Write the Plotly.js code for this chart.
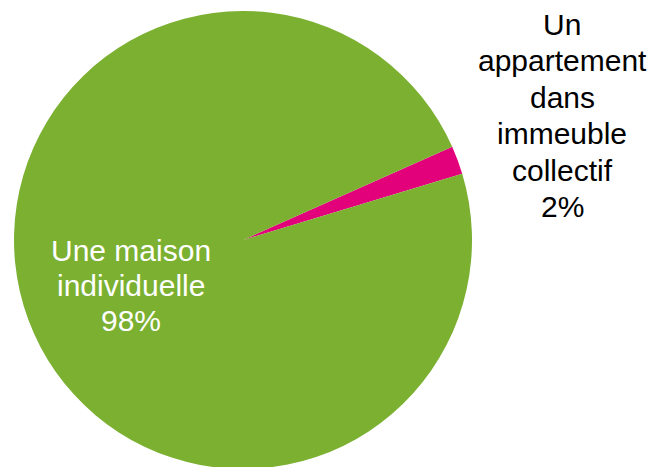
<!DOCTYPE html>
<html>
<head>
<meta charset="utf-8">
<script src="https://cdn.plot.ly/plotly-3.0.1.min.js"></script>
<style>
html, body { margin: 0; padding: 0; overflow: hidden; background: #ffffff; }
#chart { width: 662px; height: 470px; }
</style>
</head>
<body>
<div id="chart"></div>
<script>
const categories = ["Un appartement dans immeuble collectif", "Une maison individuelle"];
const values = [2, 98];
const percentLabels = ["2%", "98%"];
const colors = ["#E3007B", "#7BB031"];
const labelLinesAppart = ["Un", "appartement", "dans", "immeuble", "collectif"];
const labelLinesMaison = ["Une maison", "individuelle"];

const W = 662, H = 470;
const FS = 30;
const FONT = "Liberation Sans, Arial, sans-serif";

const trace = {
  type: "pie",
  labels: categories,
  values: values,
  sort: false,
  direction: "clockwise",
  rotation: 66,
  marker: { colors: colors, line: { width: 0 } },
  textinfo: "none",
  hoverinfo: "none",
  showlegend: false,
  domain: { x: [14 / W, 472 / W], y: [1 - 469 / H, 1 - 11 / H] }
};

function lineAnnots(lines, cx, firstBaseline, spacing, color) {
  return lines.map((t, i) => ({
    text: t,
    xref: "paper", yref: "paper",
    x: cx / W,
    y: 1 - (firstBaseline + i * spacing - 0.35 * FS) / H,
    xanchor: "center", yanchor: "middle",
    showarrow: false, align: "center",
    font: { size: FS, color: color, family: FONT }
  }));
}

const annotations = []
  .concat(lineAnnots(labelLinesAppart.concat([percentLabels[0]]), 562, 35, 36.4, "#000000"))
  .concat(lineAnnots(labelLinesMaison.concat([percentLabels[1]]), 131, 260.5, 35, "#ffffff"));

const layout = {
  width: W,
  height: H,
  margin: { l: 0, r: 0, t: 0, b: 0, pad: 0 },
  paper_bgcolor: "#ffffff",
  plot_bgcolor: "#ffffff",
  showlegend: false,
  font: { family: FONT },
  annotations: annotations
};

Plotly.newPlot("chart", [trace], layout, { displayModeBar: false, staticPlot: true });
</script>
</body>
</html>
